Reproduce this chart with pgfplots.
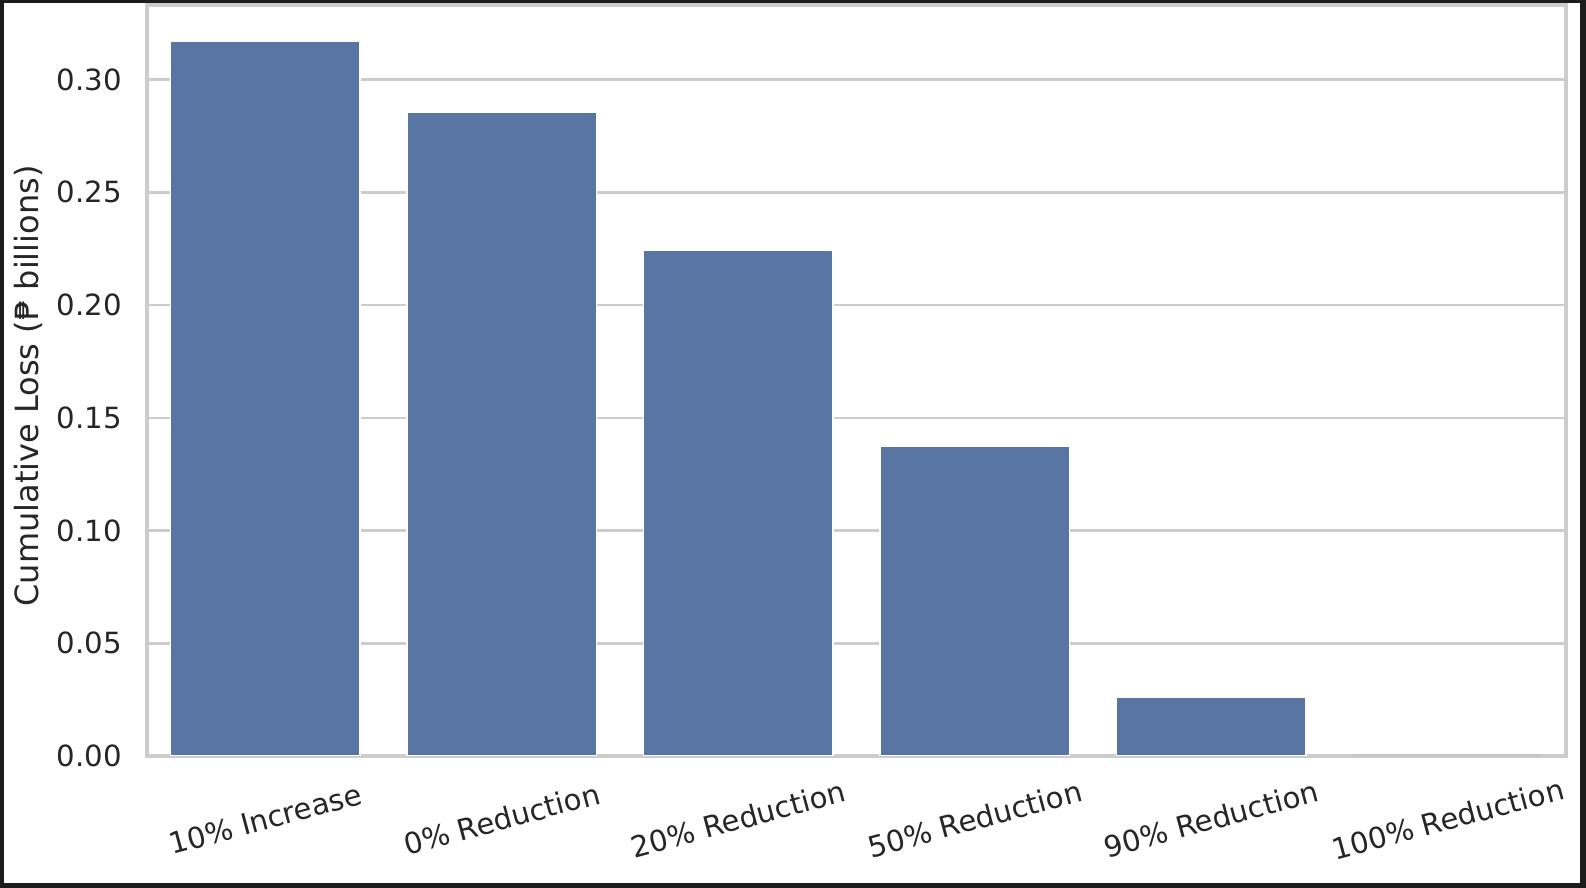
\documentclass[border=0pt]{standalone}
\usepackage{fontspec}
\setmainfont{DejaVu Sans}
\usepackage{pgfplots}
\pgfplotsset{compat=1.18}
\definecolor{barblue}{HTML}{5875A4}
\definecolor{gridgray}{HTML}{CCCCCC}
\definecolor{txt}{HTML}{262626}
\definecolor{framecol}{HTML}{1C1C1C}
\begin{document}
\begin{tikzpicture}
\fill[framecol] (0,0) rectangle (793pt,444pt);
\fill[white] (2pt,2.5pt) rectangle (790pt,442.5pt);
\path[use as bounding box] (0,0) rectangle (793pt,444pt);
\begin{axis}[
  at={(73.5pt,66pt)}, anchor=south west,
  scale only axis, width=709.5pt, height=375.5pt,
  xmin=-0.5, xmax=5.5, ymin=0, ymax=0.3331,
  ybar, bar width=0.8,
  xtick={0,1,2,3,4,5},
  xticklabels={10\% Increase,0\% Reduction,20\% Reduction,50\% Reduction,90\% Reduction,100\% Reduction},
  ytick={0,0.05,0.10,0.15,0.20,0.25,0.30},
  /pgf/number format/fixed,
  /pgf/number format/fixed zerofill,
  /pgf/number format/precision=2,
  /pgf/number format/assume math mode=true,
  major tick length=0pt,
  axis line style={gridgray, line width=1.6pt},
  ymajorgrids, grid style={gridgray, line width=1.3pt},
  tick label style={font=\fontsize{14.6}{17}\selectfont, text=txt},
  every y tick label/.append style={anchor=east, inner sep=0pt, xshift=-12.5pt},
  every x tick label/.append style={rotate=15, anchor=center, inner sep=0pt, xshift=-8.15pt, yshift=-30.43pt},
  ylabel={Cumulative Loss (₱ billions)},
  ylabel style={font=\fontsize{16}{19}\selectfont, text=txt, at={(axis description cs:-0.0835,0.4927)}, anchor=center, rotate=0},
  scaled y ticks=false,
]
\addplot[fill=barblue, draw=white, line width=0.8pt, bar shift=0pt] coordinates {
  (0,0.3172) (1,0.2854) (2,0.2243) (3,0.1374) (4,0.0262)
};
\addplot[fill=barblue, draw=none, bar shift=0pt] coordinates {
  (5,0)
};
\end{axis}
\end{tikzpicture}
\end{document}
